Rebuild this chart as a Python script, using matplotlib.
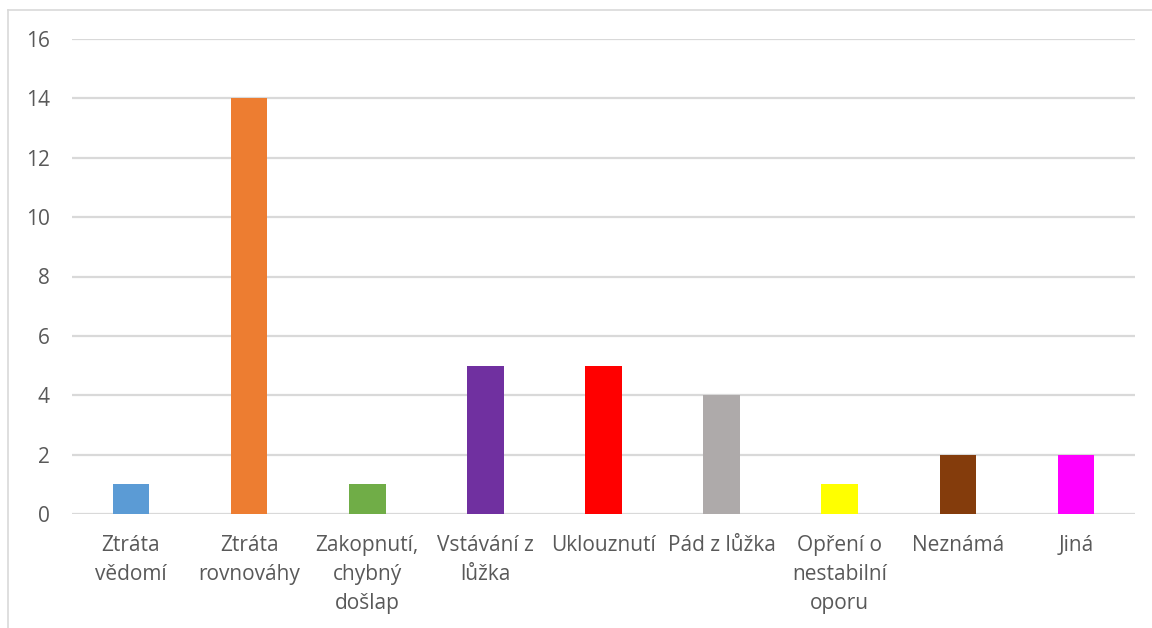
import matplotlib
matplotlib.use("Agg")
import matplotlib.pyplot as plt
from matplotlib.lines import Line2D

categories = ["Ztráta\nvědomí", "Ztráta\nrovnováhy", "Zakopnutí,\nchybný\ndošlap",
              "Vstávání z\nlůžka", "Uklouznutí", "Pád z lůžka",
              "Opření o\nnestabilní\noporu", "Neznámá", "Jiná"]
values = [1, 14, 1, 5, 5, 4, 1, 2, 2]
colors = ["#5b9bd5", "#ed7d31", "#70ad47", "#7030a0", "#ff0000",
          "#aeaaaa", "#ffff00", "#843c0c", "#ff00ff"]
yticks = [0, 2, 4, 6, 8, 10, 12, 14, 16]

plt.rcParams['font.family'] = ['Open Sans', 'DejaVu Sans']
W, H = 1152, 628
fig = plt.figure(figsize=(W/100, H/100), dpi=100)
ax = fig.add_axes([72/W, 1-514/H, (1135-72)/W, (514-39)/H])

x = list(range(len(categories)))
ax.bar(x, values, width=0.31, color=colors, zorder=3)
ax.set_xlim(-0.5, len(categories)-0.5)
ax.set_ylim(0, 16)
ax.set_yticks(yticks)
ax.set_yticklabels([str(v) for v in yticks])
ax.set_xticks(x)
ax.set_xticklabels(categories, linespacing=1.52, va='top')
ax.tick_params(axis='both', length=0, labelsize=15, colors='#595959')
ax.tick_params(axis='y', pad=16)
ax.tick_params(axis='x', pad=15)
ax.grid(axis='y', color='#d9d9d9', linewidth=1.6, zorder=0)
for s in ax.spines.values():
    s.set_visible(False)

# chart frame
fig.add_artist(Line2D([8/W, 8/W], [0, 1-10/H], color='#d9d9d9', lw=1.2))
fig.add_artist(Line2D([8/W, 1], [1-10/H, 1-10/H], color='#d9d9d9', lw=1.2))

fig.savefig("out.png", dpi=100)
